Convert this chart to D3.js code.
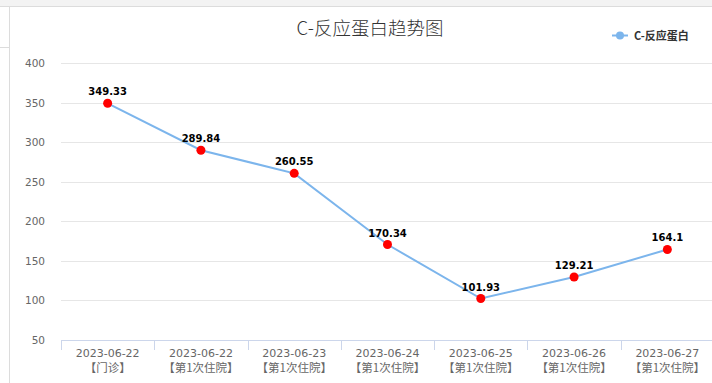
<!DOCTYPE html>
<html>
<head>
<meta charset="utf-8">
<script src="https://cdn.jsdelivr.net/npm/d3@7"></script>
<style>
  body { margin: 0; background: #fff; }
  svg { display: block; font-family: "DejaVu Sans", "Noto Sans CJK SC", sans-serif; }
  .cjk { font-family: "Noto Sans CJK SC", sans-serif; }
</style>
</head>
<body>
<svg id="chart" width="712" height="383"></svg>
<script>
var dates = ["2023-06-22", "2023-06-22", "2023-06-23", "2023-06-24", "2023-06-25", "2023-06-26", "2023-06-27"];
var visits = ["【门诊】", "【第1次住院】", "【第1次住院】", "【第1次住院】", "【第1次住院】", "【第1次住院】", "【第1次住院】"];
var values = [349.33, 289.84, 260.55, 170.34, 101.93, 129.21, 164.1];
var labels = ["349.33", "289.84", "260.55", "170.34", "101.93", "129.21", "164.1"];
var yTicks = [50, 100, 150, 200, 250, 300, 350, 400];
var seriesName = "C-反应蛋白";
var title = "C-反应蛋白趋势图";

var svg = d3.select("#chart");

// page chrome
svg.append("rect").attr("x", 0).attr("y", 0).attr("width", 712).attr("height", 6).attr("fill", "#f3f3f3");
svg.append("line").attr("x1", 0).attr("x2", 712).attr("y1", 6.5).attr("y2", 6.5).attr("stroke", "#dcdcdc");
svg.append("line").attr("x1", 9.5).attr("x2", 9.5).attr("y1", 7).attr("y2", 383).attr("stroke", "#dcdcdc");
svg.append("line").attr("x1", 0).attr("x2", 9).attr("y1", 47.5).attr("y2", 47.5).attr("stroke", "#dcdcdc");

var plotLeft = 61, plotRight = 714, plotTop = 63.3, plotBottom = 339.5;

var x = d3.scaleBand().domain(d3.range(dates.length)).range([plotLeft, plotRight]);
var y = d3.scaleLinear().domain([50, 400]).range([plotBottom, plotTop]);

// grid
svg.append("g").selectAll("line").data(yTicks.filter(function(d) { return d > 50; }))
  .enter().append("line")
  .attr("x1", plotLeft).attr("x2", 712)
  .attr("y1", function(d) { return Math.round(y(d)) + 0.5; })
  .attr("y2", function(d) { return Math.round(y(d)) + 0.5; })
  .attr("stroke", "#e6e6e6");

// y labels
svg.append("g").selectAll("text").data(yTicks)
  .enter().append("text")
  .attr("x", 45).attr("y", function(d) { return y(d) + 4; })
  .attr("text-anchor", "end")
  .attr("fill", "#666").style("font-size", "10.5px")
  .text(function(d) { return d; });

// x axis line and ticks
svg.append("line").attr("x1", plotLeft).attr("x2", 712).attr("y1", 340.5).attr("y2", 340.5).attr("stroke", "#ccd6eb");
svg.append("g").selectAll("line").data(d3.range(dates.length))
  .enter().append("line")
  .attr("x1", function(d) { return Math.round(x(d)) + 0.5; })
  .attr("x2", function(d) { return Math.round(x(d)) + 0.5; })
  .attr("y1", 340).attr("y2", 350)
  .attr("stroke", "#ccd6eb");

var xg = svg.append("g");
xg.selectAll("text.date").data(d3.range(dates.length))
  .enter().append("text")
  .attr("class", "date")
  .attr("text-anchor", "middle")
  .attr("fill", "#666").style("font-size", "11px")
  .attr("x", function(d) { return x(d) + x.bandwidth() / 2; })
  .attr("y", 357)
  .text(function(d) { return dates[d]; });
xg.selectAll("text.cjk").data(d3.range(dates.length))
  .enter().append("text")
  .attr("class", "cjk")
  .attr("text-anchor", "middle")
  .attr("fill", "#666").style("font-size", "11.5px")
  .attr("x", function(d) { return x(d) + x.bandwidth() / 2; })
  .attr("y", 372)
  .text(function(d) { return visits[d]; });

// line
var line = d3.line()
  .x(function(d, i) { return x(i) + x.bandwidth() / 2; })
  .y(function(d) { return y(d); });
svg.append("path").datum(values)
  .attr("d", line)
  .attr("fill", "none").attr("stroke", "#7cb5ec").attr("stroke-width", 2);

svg.append("g").selectAll("circle").data(values)
  .enter().append("circle")
  .attr("cx", function(d, i) { return x(i) + x.bandwidth() / 2; })
  .attr("cy", function(d) { return y(d); })
  .attr("r", 4.5).attr("fill", "#ff0000");

svg.append("g").selectAll("text").data(values)
  .enter().append("text")
  .attr("x", function(d, i) { return x(i) + x.bandwidth() / 2; })
  .attr("y", function(d) { return y(d) - 8; })
  .attr("text-anchor", "middle")
  .attr("fill", "#000").style("font-size", "10px").style("font-weight", "bold")
  .text(function(d, i) { return labels[i]; });

// title
svg.append("text").attr("class", "cjk").attr("x", 370).attr("y", 35)
  .attr("text-anchor", "middle").attr("fill", "#333")
  .style("font-size", "18.5px").style("font-weight", "300")
  .text(title);

// legend
svg.append("line").attr("x1", 612).attr("x2", 628).attr("y1", 35.5).attr("y2", 35.5)
  .attr("stroke", "#7cb5ec").attr("stroke-width", 2);
svg.append("circle").attr("cx", 620).attr("cy", 35.5).attr("r", 4).attr("fill", "#7cb5ec");
svg.append("text").attr("class", "cjk").attr("x", 634).attr("y", 39.5)
  .attr("fill", "#333").style("font-size", "11px").style("font-weight", "bold")
  .text(seriesName);
</script>
</body>
</html>
